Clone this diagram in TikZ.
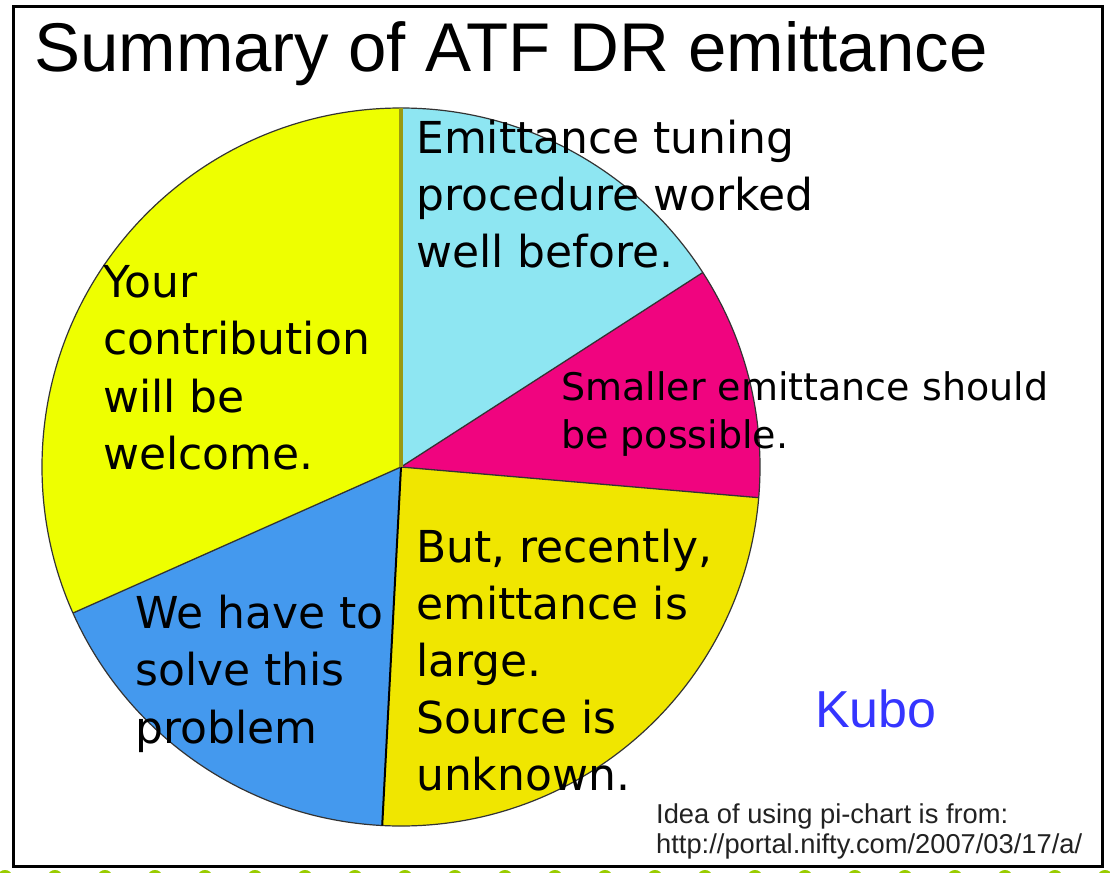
\documentclass[tikz,border=0pt]{standalone}
\usepackage{fontspec}
\setmainfont{DejaVu Sans}
\newfontfamily\arialfont{Liberation Sans}
\newcommand\fsz[2]{\fontsize{#1}{#2}\selectfont}
\definecolor{yelA}{HTML}{EEFF00}
\definecolor{yelB}{HTML}{F0E600}
\definecolor{cyanS}{HTML}{8EE6F2}
\definecolor{magS}{HTML}{F0047F}
\definecolor{blueS}{HTML}{4499EE}
\definecolor{olive}{HTML}{9A9A10}
\definecolor{edge}{HTML}{333333}
\definecolor{kubo}{HTML}{3535FF}
\definecolor{dotgreen}{HTML}{99CC00}
\definecolor{foot}{HTML}{222222}
\tikzset{
  pietext/.style={anchor=north west, inner sep=0pt, align=left, text=black},
  radial/.style={draw=edge, line width=1.3pt},
  foottext/.style={anchor=base west, inner sep=0pt, text=foot, font=\arialfont\fsz{27.3}{30}},
}
\begin{document}
\begin{tikzpicture}[x=1pt, y=-1pt]
\useasboundingbox (0,0) rectangle (1110,872);
\clip (0,0) rectangle (1110,872);
\fill[white] (0,0) rectangle (1110,872);
% bottom dotted decoration
\foreach \i in {0,...,22} {
  \fill[dotgreen] (5+50*\i,876) ellipse[x radius=7, y radius=6];
}
% frame
\draw[black, line width=3pt] (13,7) rectangle (1102,866);
% pie
\begin{scope}[shift={(401,467)}, yscale=-1]
  \def\R{359}
  \fill[yelA] (0,0) -- (90:\R) arc[start angle=90, end angle=204, radius=\R] -- cycle;
  \fill[cyanS] (0,0) -- (32.8:\R) arc[start angle=32.8, end angle=90, radius=\R] -- cycle;
  \fill[magS] (0,0) -- (-4.9:\R) arc[start angle=-4.9, end angle=32.8, radius=\R] -- cycle;
  \fill[yelB] (0,0) -- (-93:\R) arc[start angle=-93, end angle=-4.9, radius=\R] -- cycle;
  \fill[blueS] (0,0) -- (204:\R) arc[start angle=204, end angle=267, radius=\R] -- cycle;
  \draw[edge, line width=1.2pt] (0,0) circle[radius=\R];
  \draw[radial] (0,0) -- (32.8:\R);
  \draw[radial] (0,0) -- (-4.9:\R);
  \draw[draw=black, line width=2pt] (0,0) -- (-93:\R);
  \draw[radial] (0,0) -- (204:\R);
  \draw[olive, line width=4.5pt] (0,0) -- (90:\R);
\end{scope}
% title
\node[anchor=base west, inner sep=0pt, font=\arialfont\fsz{69}{80}] (title) at (34,72) {Summary of ATF DR emittance};
% pie labels
\node[pietext, font=\fsz{44}{57}] (tuning) at (416,117.8) {\rule{0pt}{0.8em}Emittance tuning\\procedure worked\\well before.};
\node[pietext, font=\fsz{44}{57.5}] (contrib) at (103,261.8) {\rule{0pt}{0.8em}Your\\contribution\\will be\\welcome.};
\node[pietext, font=\fsz{38}{48}] (smaller) at (561,369.6) {\rule{0pt}{0.8em}Smaller emittance should\\be possible.};
\node[pietext, font=\fsz{44}{57}] (recent) at (416,526.8) {\rule{0pt}{0.8em}But, recently,\\emittance is\\large.\\Source is\\unknown.};
\node[pietext, font=\fsz{44}{57.5}] (solve) at (135,592.8) {\rule{0pt}{0.8em}We have to\\solve this\\problem};
% author
\node[anchor=base west, inner sep=0pt, text=kubo, font=\arialfont\fsz{52}{60}] (kubo) at (815,727) {Kubo};
% footer
\node[foottext] (idea) at (656,823) {Idea of using pi-chart is from:};
\node[foottext] (url) at (656,853) {http://portal.nifty.com/2007/03/17/a/};
\end{tikzpicture}
\end{document}
